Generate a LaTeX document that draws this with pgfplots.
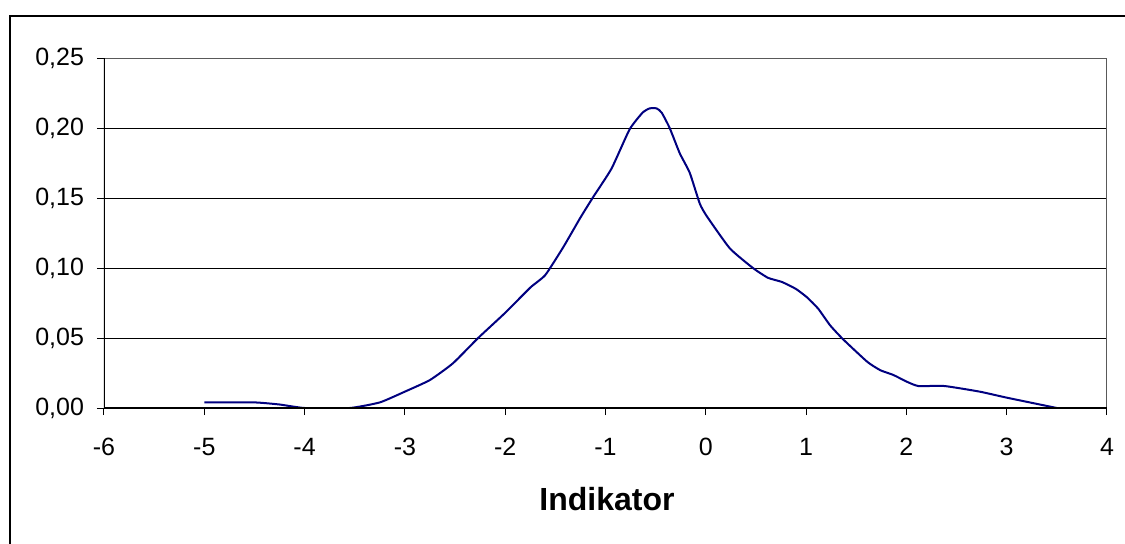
\documentclass[border=0pt]{standalone}
\usepackage{pgfplots}
\pgfplotsset{compat=1.18}
\usepackage{fontspec}
\setmainfont{Liberation Sans}
\definecolor{navyline}{RGB}{0,0,128}
\begin{document}
\begin{tikzpicture}
\useasboundingbox (-52pt,-67.5pt) rectangle (510.5pt,204pt);
\fill[white] (-52pt,-67.5pt) rectangle (510.5pt,204pt);
\draw[line width=0.7pt] (-47pt,-80pt) -- (-47pt,196pt) -- (520pt,196pt);
\begin{axis}[
  at={(0,0)}, anchor=south west,
  scale only axis, width=501.5pt, height=175pt,
  xmin=-6, xmax=4, ymin=0, ymax=0.25,
  xtick={-6,-5,...,4}, ytick={0,0.05,...,0.25},
  axis line style={draw=none},
  tick align=outside, xtick pos=bottom, ytick pos=left,
  major tick length=3.5pt,
  tick style={black, line width=0.5pt},
  ymajorgrids, grid style={black, line width=0.5pt},
  /pgf/number format/assume math mode=true,
  yticklabel style={/pgf/number format/fixed, /pgf/number format/fixed zerofill, /pgf/number format/precision=2, /pgf/number format/use comma, font=\fontsize{12.5}{13}\selectfont, xshift=-3pt},
  xticklabel style={font=\fontsize{12.5}{13}\selectfont, yshift=-8pt},
  xlabel={Indikator},
  xlabel style={font=\fontsize{16}{18}\bfseries\selectfont, at={(axis description cs:0.5015,0)}, anchor=center, yshift=-45.5pt},
]
\addplot[navyline, line width=1pt, smooth, tension=0.3] coordinates {
(-5,0.004) (-4.5,0.004) (-4.25,0.0025) (-4.0,0) (-3.55,0) (-3.25,0.004) (-3.0,0.0117)
(-2.75,0.020) (-2.52,0.032) (-2.27,0.05) (-2.0,0.068) (-1.75,0.086) (-1.6,0.095)
(-1.42,0.115) (-1.25,0.136) (-1.12,0.151) (-0.94,0.171) (-0.76,0.199) (-0.63,0.211)
(-0.56,0.214) (-0.49,0.214) (-0.44,0.211) (-0.36,0.2) (-0.26,0.182) (-0.16,0.168)
(-0.06,0.146) (0.01,0.137) (0.24,0.114) (0.47,0.1) (0.62,0.093) (0.76,0.09) (0.9,0.085)
(1.01,0.079) (1.12,0.071) (1.24,0.059) (1.37,0.049) (1.61,0.033) (1.74,0.027) (1.87,0.0236)
(2.01,0.0186) (2.12,0.0157) (2.38,0.0157) (2.73,0.0117) (3.0,0.0074) (3.5,0)
};
\draw[gray!70!black, line width=0.7pt] (rel axis cs:0,1) -- (rel axis cs:1,1) -- (rel axis cs:1,0);
\draw[black, line width=0.7pt] (rel axis cs:0,1) -- (rel axis cs:0,0) -- (rel axis cs:1,0);
\end{axis}
\end{tikzpicture}
\end{document}
